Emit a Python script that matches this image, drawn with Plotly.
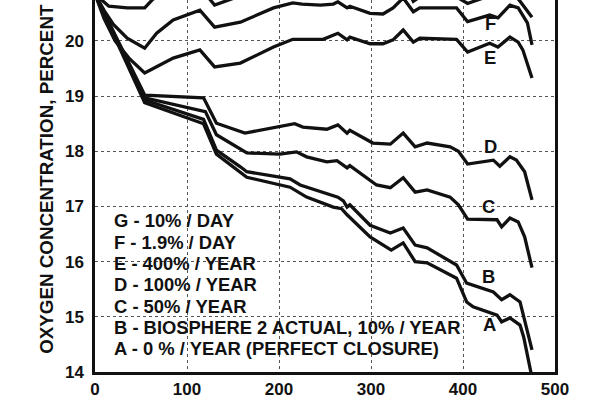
import plotly.graph_objects as go

# ---- data (days, oxygen %) ----
A_days = [0, 54, 118, 132, 165, 212, 230, 259, 268, 274, 299, 322, 335, 348, 361, 393, 404, 411, 437, 442, 451, 462, 466, 474]
A_vals = [20.85, 18.88, 18.50, 17.95, 17.53, 17.35, 17.17, 16.99, 16.96, 16.85, 16.45, 16.21, 16.34, 16.00, 15.98, 15.70, 15.27, 15.18, 15.03, 14.91, 14.98, 14.85, 14.63, 13.98]

B_days = [0, 54, 118, 132, 158, 165, 212, 223, 264, 270, 274, 277, 299, 321, 335, 348, 361, 393, 404, 433, 442, 451, 462, 475]
B_vals = [20.85, 18.93, 18.58, 18.02, 17.72, 17.63, 17.50, 17.39, 17.17, 17.10, 16.99, 17.03, 16.66, 16.52, 16.61, 16.30, 16.25, 15.94, 15.61, 15.45, 15.31, 15.40, 15.27, 14.40]

C_days = [0, 54, 120, 132, 165, 201, 219, 230, 252, 263, 274, 277, 306, 321, 335, 348, 361, 386, 395, 405, 437, 442, 451, 460, 467, 475]
C_vals = [20.85, 18.97, 18.72, 18.30, 17.97, 17.95, 17.99, 17.90, 17.81, 17.83, 17.70, 17.74, 17.39, 17.34, 17.52, 17.26, 17.30, 17.17, 17.03, 16.77, 16.76, 16.63, 16.79, 16.72, 16.45, 15.89]

D_days = [0, 54, 118, 132, 163, 201, 217, 226, 252, 264, 274, 277, 302, 321, 335, 348, 361, 386, 395, 405, 433, 440, 451, 458, 467, 475]
D_vals = [20.85, 19.02, 18.97, 18.51, 18.33, 18.44, 18.50, 18.44, 18.40, 18.48, 18.33, 18.38, 18.15, 18.13, 18.33, 18.08, 18.15, 18.08, 18.00, 17.77, 17.84, 17.73, 17.90, 17.84, 17.63, 17.12]

E_days = [0, 10, 22, 38, 54, 67, 85, 114, 130, 158, 194, 215, 248, 264, 274, 277, 299, 313, 324, 335, 346, 353, 393, 405, 429, 438, 451, 460, 465, 475]
E_vals = [20.85, 20.40, 20.00, 19.67, 19.42, 19.53, 19.69, 19.84, 19.53, 19.60, 19.89, 20.03, 20.03, 20.14, 20.02, 20.07, 19.95, 19.95, 20.02, 20.20, 19.98, 20.05, 20.03, 19.80, 19.96, 19.89, 20.07, 19.98, 19.84, 19.33]

F_days = [0, 10, 20, 35, 54, 67, 85, 114, 130, 158, 194, 215, 225, 245, 259, 264, 274, 277, 299, 313, 324, 335, 346, 353, 393, 405, 429, 438, 451, 460, 470, 475]
F_vals = [20.85, 20.55, 20.30, 20.05, 19.87, 20.14, 20.38, 20.56, 20.25, 20.34, 20.60, 20.69, 20.67, 20.65, 20.67, 20.71, 20.60, 20.63, 20.50, 20.49, 20.60, 20.78, 20.53, 20.60, 20.60, 20.35, 20.47, 20.42, 20.65, 20.60, 20.33, 19.93]

G_days = [0, 15, 35, 54, 63, 85, 114, 130, 158, 201, 264, 274, 300, 318, 335, 346, 353, 393, 405, 429, 438, 451, 462, 475]
G_vals = [20.85, 20.63, 20.60, 20.60, 20.76, 20.90, 20.98, 20.65, 20.82, 21.00, 21.10, 21.00, 20.90, 20.88, 21.10, 20.72, 20.80, 20.80, 20.68, 20.82, 20.78, 20.95, 20.72, 20.43]

series = [("A", A_days, A_vals), ("B", B_days, B_vals), ("C", C_days, C_vals),
          ("D", D_days, D_vals), ("E", E_days, E_vals), ("F", F_days, F_vals),
          ("G", G_days, G_vals)]

legend_lines = ["G - 10% / DAY", "F - 1.9% / DAY", "E - 400% / YEAR", "D - 100% / YEAR",
                "C - 50% / YEAR", "B - BIOSPHERE 2 ACTUAL, 10% / YEAR",
                "A - 0 % / YEAR (PERFECT CLOSURE)"]

curve_labels = ["A", "B", "C", "D", "E", "F", "G"]
label_x = [429, 428, 428, 430, 429, 430, 477]
label_y = [14.86, 15.73, 17.00, 18.09, 19.70, 20.32, 20.82]

x_ticks = [0, 100, 200, 300, 400, 500]
y_ticks = [14, 15, 16, 17, 18, 19, 20]

FONT = "Liberation Sans, Arial, Helvetica, sans-serif"
INK = "#111111"

fig = go.Figure()
for name, d, v in series:
    fig.add_trace(go.Scatter(x=d, y=v, mode="lines", name=name,
                             line=dict(color=INK, width=3.3), showlegend=False))

# legend text block
for i, t in enumerate(legend_lines):
    fig.add_annotation(x=18.5, y=16.74 - i * 0.386, xref="x", yref="y", text=t,
                       showarrow=False, xanchor="left", yanchor="middle",
                       font=dict(family=FONT, size=18.4, color=INK, weight="bold"))

# curve labels
for t, lx, ly in zip(curve_labels, label_x, label_y):
    fig.add_annotation(x=lx, y=ly, xref="x", yref="y", text=t, showarrow=False,
                       xanchor="center", yanchor="middle",
                       font=dict(family=FONT, size=18.4, color=INK, weight="bold"))

# y title
fig.add_annotation(x=-0.106, y=0.52, xref="paper", yref="paper",
                   text="OXYGEN CONCENTRATION, PERCENT", textangle=-90,
                   showarrow=False, xanchor="center", yanchor="middle",
                   font=dict(family=FONT, size=18.8, color=INK, weight="bold"))

axis_common = dict(showgrid=True, gridcolor="#555555", gridwidth=1, griddash="dot",
                   zeroline=False, showline=True, linecolor=INK, linewidth=2.5,
                   ticks="", tickfont=dict(family=FONT, size=17, color=INK, weight="bold"))

fig.update_xaxes(range=[0, 500], tickvals=x_ticks, mirror=False, **axis_common)
fig.update_yaxes(range=[14, 20.743], tickvals=y_ticks, mirror=True,
                 ticklabelstandoff=5, **axis_common)

fig.update_layout(width=600, height=400, margin=dict(l=95, r=45, t=0, b=28),
                  paper_bgcolor="white", plot_bgcolor="white")

fig.write_html("out.html")
